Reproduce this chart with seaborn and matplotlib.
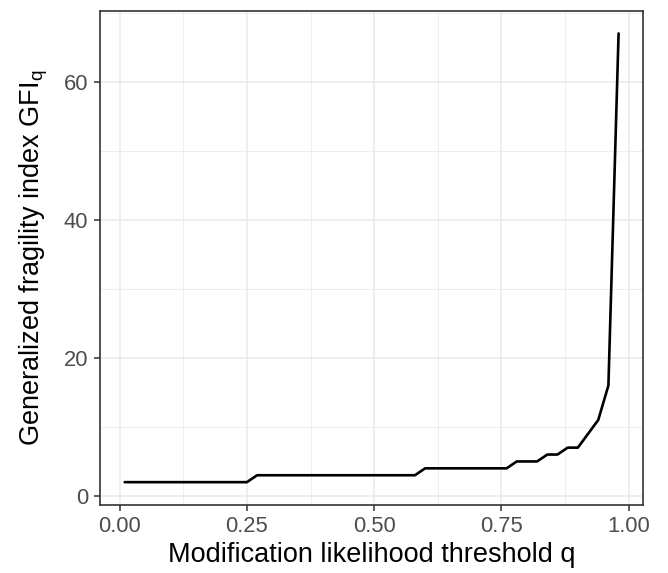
import pandas as pd
import seaborn as sns
import matplotlib.pyplot as plt
from matplotlib.ticker import MultipleLocator

# Values (vertices of the polyline)
q_threshold = [0.01, 0.25, 0.27, 0.58, 0.60, 0.76, 0.78, 0.82, 0.84,
               0.86, 0.88, 0.90, 0.92, 0.94, 0.96, 0.98]
gfi_values = [2, 2, 3, 3, 4, 4, 5, 5, 6,
              6, 7, 7, 9, 11, 16, 67]

x_ticks = [0.00, 0.25, 0.50, 0.75, 1.00]
x_tick_labels = ['0.00', '0.25', '0.50', '0.75', '1.00']
y_ticks = [0, 20, 40, 60]

df = pd.DataFrame({'q': q_threshold, 'GFI': gfi_values})

sns.set_theme(style='white')
plt.rcParams['font.family'] = ['Liberation Sans', 'DejaVu Sans']
plt.rcParams['mathtext.fontset'] = 'custom'
plt.rcParams['mathtext.rm'] = 'Liberation Sans'
plt.rcParams['mathtext.it'] = 'Liberation Sans'

fig = plt.figure(figsize=(6.68, 5.73), dpi=100)
ax = fig.add_axes([0.1497, 0.1194, 0.963 - 0.1497, 0.9808 - 0.1194])

sns.lineplot(data=df, x='q', y='GFI', color='black', linewidth=1.9, ax=ax,
             zorder=3)

# ggplot-like expansion of 5% on each side
xr = max(q_threshold) - min(q_threshold)
yr = max(gfi_values) - min(gfi_values)
ax.set_xlim(min(q_threshold) - 0.05 * xr, max(q_threshold) + 0.05 * xr)
ax.set_ylim(min(gfi_values) - 0.05 * yr, max(gfi_values) + 0.05 * yr)

ax.set_xticks(x_ticks)
ax.set_xticklabels(x_tick_labels)
ax.set_yticks(y_ticks)
ax.xaxis.set_minor_locator(MultipleLocator(0.125))
ax.yaxis.set_minor_locator(MultipleLocator(10))

ax.grid(which='major', color='#EBEBEB', linewidth=1.2, zorder=0)
ax.grid(which='minor', color='#EBEBEB', linewidth=0.6, zorder=0)
ax.set_axisbelow(True)

for sp in ax.spines.values():
    sp.set_color('#333333')
    sp.set_linewidth(1.2)

ax.tick_params(axis='both', which='major', direction='out', length=4.5,
               width=1.1, color='#333333', labelcolor='#4D4D4D',
               labelsize=15.8, pad=4, bottom=True, left=True)
ax.tick_params(axis='both', which='minor', length=0)

ax.set_xlabel('Modification likelihood threshold q', fontsize=19.5,
              color='black', labelpad=3)
ax.set_ylabel(r'Generalized fragility index GFI$\mathregular{_q}$',
              fontsize=19.5, color='black', labelpad=10)

fig.savefig('out.png', dpi=100)
